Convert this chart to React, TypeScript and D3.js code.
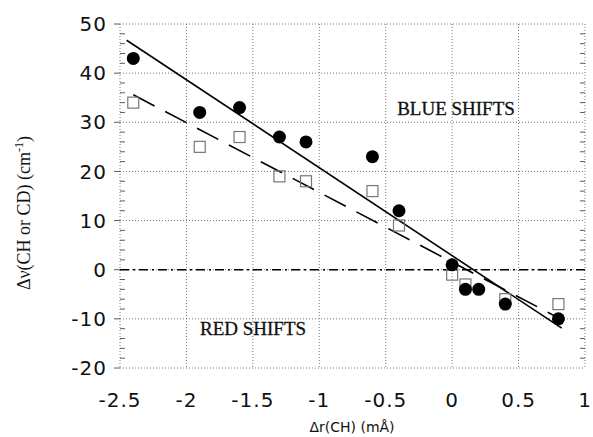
import React from 'react';
import * as d3 from 'd3';

// Δr(CH) positions and shifts
const chX = [-2.4, -1.9, -1.6, -1.3, -1.1, -0.6, -0.4, 0, 0.1, 0.2, 0.4, 0.8];
const chY = [43, 32, 33, 27, 26, 23, 12, 1, -4, -4, -7, -10];
const cdX = [-2.4, -1.9, -1.6, -1.3, -1.1, -0.6, -0.4, 0, 0.1, 0.4, 0.8];
const cdY = [34, 25, 27, 19, 18, 16, 9, -1, -3, -6, -7];

// fitted lines: [x, y] end points
const chFitX = [-2.45, 0.825];
const chFitY = [46.7, -11.9];
const cdFitX = [-2.4, 0.8];
const cdFitY = [35.6, -9.8];

const xTicks = [-2.5, -2, -1.5, -1, -0.5, 0, 0.5, 1];
const yTicks = [-20, -10, 0, 10, 20, 30, 40, 50];
const yMinor = d3.range(-20, 51, 2);

const width = 593;
const height = 437;
const margin = { top: 24, right: 8, bottom: 69, left: 120 };

export default function App() {
  const x = d3
    .scaleLinear()
    .domain([-2.5, 1])
    .range([margin.left, width - margin.right]);
  const y = d3
    .scaleLinear()
    .domain([-20, 50])
    .range([height - margin.bottom, margin.top]);

  const line = d3
    .line<[number, number]>()
    .x((d) => x(d[0]))
    .y((d) => y(d[1]));

  const chFit = chFitX.map((v, i) => [v, chFitY[i]] as [number, number]);
  const cdFit = cdFitX.map((v, i) => [v, cdFitY[i]] as [number, number]);
  const [x0, x1] = x.range();
  const [y0, y1] = y.range();

  return (
    <svg
      width={width}
      height={height}
      style={{ position: 'absolute', left: 0, top: 0, background: '#fff' }}
    >
      {/* grid */}
      <g stroke="#555" strokeWidth={0.8} strokeDasharray="1,2">
        {xTicks.map((t) => (
          <line key={'gx' + t} x1={x(t)} x2={x(t)} y1={y1} y2={y0} />
        ))}
        {yTicks.map((t) => (
          <line key={'gy' + t} x1={x0} x2={x1} y1={y(t)} y2={y(t)} />
        ))}
      </g>
      {/* minor ticks, left and right */}
      <g stroke="#333" strokeWidth={0.8}>
        {yMinor.map((t) => (
          <g key={'m' + t}>
            <line x1={x0} x2={x0 + (t % 10 === 0 ? 0 : 5)} y1={y(t)} y2={y(t)} />
            <line x1={x1} x2={x1 - (t % 10 === 0 ? 0 : 5)} y1={y(t)} y2={y(t)} />
          </g>
        ))}
        {yTicks.map((t) => (
          <line key={'mt' + t} x1={x0 - 6} x2={x0} y1={y(t)} y2={y(t)} />
        ))}
      </g>

      {/* zero line */}
      <line
        x1={x0}
        x2={x1}
        y1={y(0)}
        y2={y(0)}
        stroke="#000"
        strokeWidth={1.6}
        strokeDasharray="9,4,2,4"
      />

      {/* fits */}
      <path d={line(chFit) ?? ''} fill="none" stroke="#000" strokeWidth={1.6} />
      <path
        d={line(cdFit) ?? ''}
        fill="none"
        stroke="#000"
        strokeWidth={1.6}
        strokeDasharray="24,12"
      />

      {/* CD: open squares */}
      {cdX.map((v, i) => (
        <rect
          key={'cd' + i}
          x={x(v) - 5.5}
          y={y(cdY[i]) - 5.5}
          width={11}
          height={11}
          fill="none"
          stroke="#777"
          strokeWidth={1.2}
        />
      ))}
      {/* CH: filled circles */}
      {chX.map((v, i) => (
        <circle key={'ch' + i} cx={x(v)} cy={y(chY[i])} r={6.5} fill="#000" />
      ))}

      {/* tick labels */}
      <g fontFamily="'DejaVu Sans', sans-serif" fontSize={20} fill="#111" letterSpacing={1}>
        {yTicks.map((t) => (
          <text key={'yl' + t} x={x0 - 13} y={y(t)} dy="0.36em" textAnchor="end">
            {t}
          </text>
        ))}
        {xTicks.map((t) => (
          <text key={'xl' + t} x={x(t)} y={y0 + 39} textAnchor="middle">
            {t}
          </text>
        ))}
      </g>

      {/* axis titles */}
      <text
        x={352}
        y={432}
        textAnchor="middle"
        fontFamily="'DejaVu Sans', sans-serif"
        fontSize={14}
        fill="#111"
      >
        Δr(CH) (mÅ)
      </text>
      <text
        transform="translate(30,213) rotate(-90)"
        textAnchor="middle"
        fontFamily="'Liberation Serif', serif"
        fontSize={18}
        fill="#111"
      >
        Δν(CH or CD) (cm
        <tspan fontSize={12} dy={-7}>
          -1
        </tspan>
        <tspan dy={7}>)</tspan>
      </text>

      {/* region labels */}
      <g fontFamily="'Liberation Serif', serif" fontSize={19} fill="#111" stroke="#111" strokeWidth={0.3}>
        <text x={456} y={115} textAnchor="middle">
          BLUE SHIFTS
        </text>
        <text x={200} y={335}>
          RED SHIFTS
        </text>
      </g>
    </svg>
  );
}
